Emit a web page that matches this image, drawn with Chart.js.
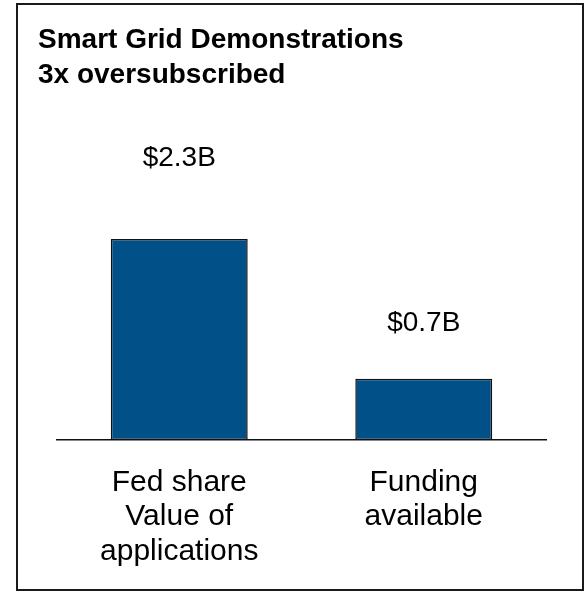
<!DOCTYPE html>
<html>
<head>
<meta charset="utf-8">
<script src="https://cdn.jsdelivr.net/npm/chart.js@4"></script>
<style>
  html, body { margin: 0; padding: 0; background: #ffffff; }
  #chart-wrap { width: 587px; height: 591px; }
</style>
</head>
<body>
<div id="chart-wrap"><canvas id="grid-chart"></canvas></div>
<script>
const titleLines = ['Smart Grid Demonstrations', '3x oversubscribed'];
const categories = [['Fed share', 'Value of', 'applications'], ['Funding', 'available']];
const values = [2.3, 0.7];
const valueLabels = ['$2.3B', '$0.7B'];

const FONT = "'Liberation Sans', Arial, sans-serif";

// frame round the whole picture
const framePlugin = {
    id: 'frame',
    beforeDraw(chart) {
        const ctx = chart.ctx;
        ctx.save();
        ctx.fillStyle = '#ffffff';
        ctx.fillRect(0, 0, chart.width, chart.height);
        ctx.strokeStyle = '#1a1a1a';
        ctx.lineWidth = 2;
        ctx.strokeRect(17, 4, 566, 586);
        ctx.restore();
    }
};

// "$2.3B" style labels above the bars
const valueLabelPlugin = {
    id: 'valueLabels',
    afterDatasetsDraw(chart, args, opts) {
        const ctx = chart.ctx;
        const meta = chart.getDatasetMeta(0);
        ctx.save();
        ctx.font = opts.font;
        ctx.fillStyle = '#000000';
        ctx.textAlign = 'center';
        ctx.textBaseline = 'alphabetic';
        meta.data.forEach(function(bar, i) {
            ctx.fillText(valueLabels[i], bar.x, bar.y - opts.offsets[i]);
        });
        ctx.restore();
    }
};

const ctx = document.getElementById('grid-chart').getContext('2d');

const gridChart = new Chart(ctx, {
    type: 'bar',
    data: {
        labels: categories,
        datasets: [{
            data: values,
            backgroundColor: '#015087',
            borderColor: '#111111',
            borderWidth: 1.5,
            borderSkipped: false,
            barPercentage: 0.56,
            categoryPercentage: 1
        }]
    },
    options: {
        responsive: true,
        maintainAspectRatio: false,
        animation: false,
        layout: {
            padding: { top: 4, left: 38, right: 41, bottom: 0 }
        },
        scales: {
            x: {
                grid: { display: false, drawTicks: false },
                border: { display: true, color: '#111111', width: 1.5 },
                ticks: {
                    color: '#000000',
                    padding: 25,
                    maxRotation: 0,
                    autoSkip: false,
                    font: { family: FONT, size: 30, lineHeight: 1.15 }
                },
                afterFit: function(scale) {
                    scale.height = 151;
                }
            },
            y: {
                display: true,
                min: 0,
                max: 3.5,
                grid: { display: false, drawTicks: false },
                border: { display: false },
                ticks: { display: false },
                afterFit: function(scale) {
                    scale.width = 19;
                }
            }
        },
        plugins: {
            legend: { display: false },
            tooltip: { enabled: false },
            title: {
                display: true,
                text: titleLines,
                align: 'start',
                color: '#000000',
                font: { family: FONT, size: 28, weight: 'bold', lineHeight: 1.25 },
                padding: { top: 19, bottom: 41 }
            },
            valueLabels: {
                font: "28px 'Liberation Sans', Arial, sans-serif",
                offsets: [73, 48]
            }
        }
    },
    plugins: [framePlugin, valueLabelPlugin]
});
</script>
</body>
</html>
